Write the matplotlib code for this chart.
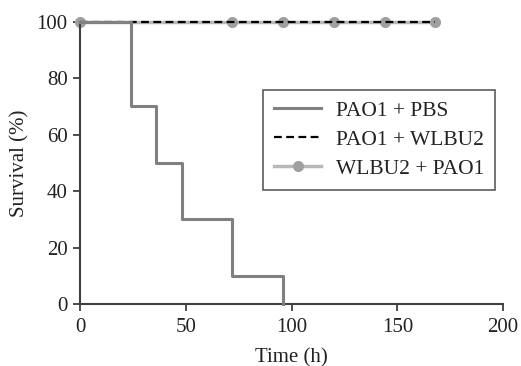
import matplotlib
matplotlib.use("Agg")
import matplotlib.pyplot as plt

plt.rcParams['font.family'] = ['Liberation Serif', 'DejaVu Serif']

# Data
pbs_time = [0, 24, 36, 48, 72, 96]
pbs_surv = [100, 70, 50, 30, 10, 0]
wlbu2_time = [0, 168]
wlbu2_surv = [100, 100]
pre_time = [0, 72, 96, 120, 144, 168]
pre_surv = [100, 100, 100, 100, 100, 100]
labels = ["PAO1 + PBS", "PAO1 + WLBU2", "WLBU2 + PAO1"]

fig = plt.figure(figsize=(5.21, 3.66), dpi=100)
ax = fig.add_axes([0.1536, 0.1694, 0.812, 0.771])

l3, = ax.plot(pre_time, pre_surv, color='#b8b8b8', lw=2.5, marker='o', ms=7,
              mfc='#a0a0a0', mec='#a0a0a0', clip_on=False, zorder=2, label=labels[2])
l2, = ax.plot(wlbu2_time, wlbu2_surv, color='black', lw=1.6, ls=(0, (3.5, 2)),
              clip_on=False, zorder=3, label=labels[1])
l1, = ax.plot(pbs_time + [pbs_time[-1]], pbs_surv + [pbs_surv[-1]],
              drawstyle='steps-post', color='#808080', lw=2.2, clip_on=False, zorder=4,
              label=labels[0])

ax.set_xlim(0, 200)
ax.set_ylim(0, 100)
ax.set_xticks([0, 50, 100, 150, 200])
ax.set_yticks([0, 20, 40, 60, 80, 100])
for s in ['top', 'right']:
    ax.spines[s].set_visible(False)
for s in ['left', 'bottom']:
    ax.spines[s].set_color('#404040')
    ax.spines[s].set_linewidth(1.5)
ax.tick_params(direction='out', length=5, width=1.3, color='#404040',
               labelsize=15, labelcolor='#222222')
ax.tick_params(axis='x', pad=5)
ax.tick_params(axis='y', pad=4)
ax.set_xlabel('Time (h)', fontsize=15, color='#222222', labelpad=8)
ax.set_ylabel('Survival (%)', fontsize=15, color='#222222', labelpad=5)

leg = ax.legend(handles=[l1, l2, l3], loc='upper left',
                bbox_to_anchor=(0.433, 0.759), fontsize=15.5, frameon=True,
                fancybox=False, edgecolor='#333333', handlelength=2.2,
                handletextpad=0.7, borderpad=0.5, labelspacing=0.42,
                borderaxespad=0)
leg.get_frame().set_linewidth(1.2)
for t in leg.get_texts():
    t.set_color('#222222')

fig.savefig('out.png', dpi=100)
